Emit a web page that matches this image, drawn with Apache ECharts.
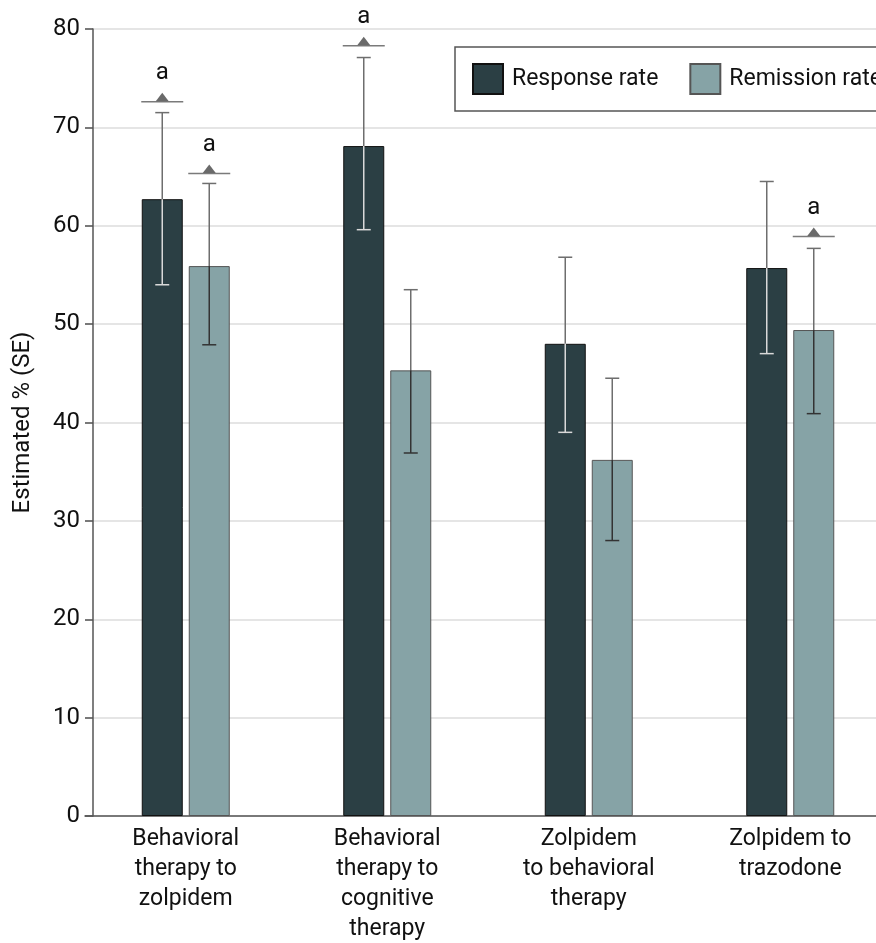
<!DOCTYPE html>
<html><head><meta charset="utf-8">
<script src="https://cdn.jsdelivr.net/npm/echarts@6/dist/echarts.min.js"></script>
<style>html,body{margin:0;padding:0;background:#fff}#c{width:876px;height:943px}</style>
</head><body><div id="c"></div>
<script>
const categories = ['Behavioral\ntherapy to\nzolpidem', 'Behavioral\ntherapy to\ncognitive\ntherapy', 'Zolpidem\nto behavioral\ntherapy', 'Zolpidem to\ntrazodone'];
const responseRate = [62.7, 68.1, 48.0, 55.7];
const responseLow = [54.0, 59.6, 39.0, 47.0];
const responseHigh = [71.5, 77.1, 56.8, 64.5];
const remissionRate = [55.9, 45.3, 36.2, 49.4];
const remissionLow = [47.9, 36.9, 28.0, 40.9];
const remissionHigh = [64.3, 53.5, 44.5, 57.7];
const responseMarker = [72.6, 78.3, null, null];
const remissionMarker = [65.3, null, null, 58.9];
const markerLabel = 'a';
const yMin = 0, yMax = 80, yInterval = 10;

const FONT = 'Roboto';
const TEXT = '#111';
const DARK = '#2b3f44';
const LIGHT = '#86a3a6';
const BAR_W = 41;
const DX = 23.5;

function errorSeries(name, rate, low, high, dx, innerColor) {
  return {
    type: 'custom', name: name, z: 5, silent: true,
    data: rate.map((v, i) => [i, v, low[i], high[i]]),
    encode: { x: 0, y: [1, 2, 3] },
    renderItem: function (params, api) {
      const i = api.value(0);
      const top = api.coord([i, api.value(1)]);
      const lo = api.coord([i, api.value(2)]);
      const hi = api.coord([i, api.value(3)]);
      const x = top[0] + dx;
      const cap = 7;
      return { type: 'group', children: [
        { type: 'line', shape: { x1: x, y1: hi[1], x2: x, y2: top[1] }, style: { stroke: '#6e6e6e', lineWidth: 1.5 } },
        { type: 'line', shape: { x1: x - cap, y1: hi[1], x2: x + cap, y2: hi[1] }, style: { stroke: '#6e6e6e', lineWidth: 1.5 } },
        { type: 'line', shape: { x1: x, y1: top[1], x2: x, y2: lo[1] }, style: { stroke: innerColor, lineWidth: 1.5 } },
        { type: 'line', shape: { x1: x - cap, y1: lo[1], x2: x + cap, y2: lo[1] }, style: { stroke: innerColor, lineWidth: 1.5 } }
      ] };
    }
  };
}

function markerSeries(name, levels, dx) {
  return {
    type: 'custom', name: name, z: 6, silent: true,
    data: levels.map((v, i) => v == null ? null : [i, v]).filter(Boolean),
    encode: { x: 0, y: 1 },
    renderItem: function (params, api) {
      const p = api.coord([api.value(0), api.value(1)]);
      const x = p[0] + dx, y = p[1];
      return { type: 'group', children: [
        { type: 'line', shape: { x1: x - 21, y1: y, x2: x + 21, y2: y }, style: { stroke: '#7a7a7a', lineWidth: 1.5 } },
        { type: 'polygon', shape: { points: [[x - 6.5, y - 0.5], [x + 6.5, y - 0.5], [x, y - 9]] }, style: { fill: '#6a6a6a' } },
        { type: 'text', x: x, y: y - 17, style: { text: markerLabel, fontFamily: FONT, fontSize: 24, fill: TEXT, align: 'center', verticalAlign: 'bottom' } }
      ] };
    }
  };
}

const chart = echarts.init(document.getElementById('c'), null, { renderer: 'canvas' });
chart.setOption({
  animation: false,
  backgroundColor: '#fff',
  textStyle: { fontFamily: FONT },
  grid: { left: 85, top: 29, width: 806, height: 787, containLabel: false, outerBoundsMode: 'none' },
  legend: {
    data: ['Response rate', 'Remission rate'],
    orient: 'horizontal',
    left: 455, top: 47, width: 480,
    padding: [16, 17, 16, 17],
    itemWidth: 30, itemHeight: 30, itemGap: 31,
    borderColor: '#555', borderWidth: 1.5, backgroundColor: '#fff',
    icon: 'rect',
    textStyle: { fontFamily: FONT, fontSize: 23, color: TEXT, padding: [0, 0, 0, 4] }
  },
  xAxis: {
    type: 'category', data: categories,
    axisLine: { lineStyle: { color: '#555', width: 1.5 } },
    axisTick: { show: false },
    axisLabel: { interval: 0, fontFamily: FONT, fontSize: 23, lineHeight: 30, margin: 8, color: TEXT }
  },
  yAxis: {
    type: 'value', min: yMin, max: yMax, interval: yInterval, offset: -8,
    name: 'Estimated % (SE)', nameLocation: 'middle', nameGap: 58, nameRotate: 90,
    nameTextStyle: { fontFamily: FONT, fontSize: 24, color: TEXT },
    axisLine: { show: true, lineStyle: { color: '#555', width: 1.5 } },
    axisTick: { show: true, length: 8, lineStyle: { color: '#555', width: 1.5 } },
    axisLabel: { fontFamily: FONT, fontSize: 24, margin: 13, color: TEXT },
    splitLine: { show: true, lineStyle: { color: '#dcdcdc', width: 1.5 } }
  },
  series: [
    { type: 'bar', name: 'Response rate', data: responseRate, barWidth: BAR_W, barGap: (6 / 41 * 100) + '%',
      itemStyle: { color: DARK, borderColor: '#111', borderWidth: 1 } },
    { type: 'bar', name: 'Remission rate', data: remissionRate, barWidth: BAR_W,
      itemStyle: { color: LIGHT, borderColor: '#555', borderWidth: 1 } },
    errorSeries('resp-err', responseRate, responseLow, responseHigh, -DX, '#d9d9d9'),
    errorSeries('rem-err', remissionRate, remissionLow, remissionHigh, DX, '#333'),
    markerSeries('resp-sig', responseMarker, -DX),
    markerSeries('rem-sig', remissionMarker, DX)
  ]
});
</script>
</body></html>
